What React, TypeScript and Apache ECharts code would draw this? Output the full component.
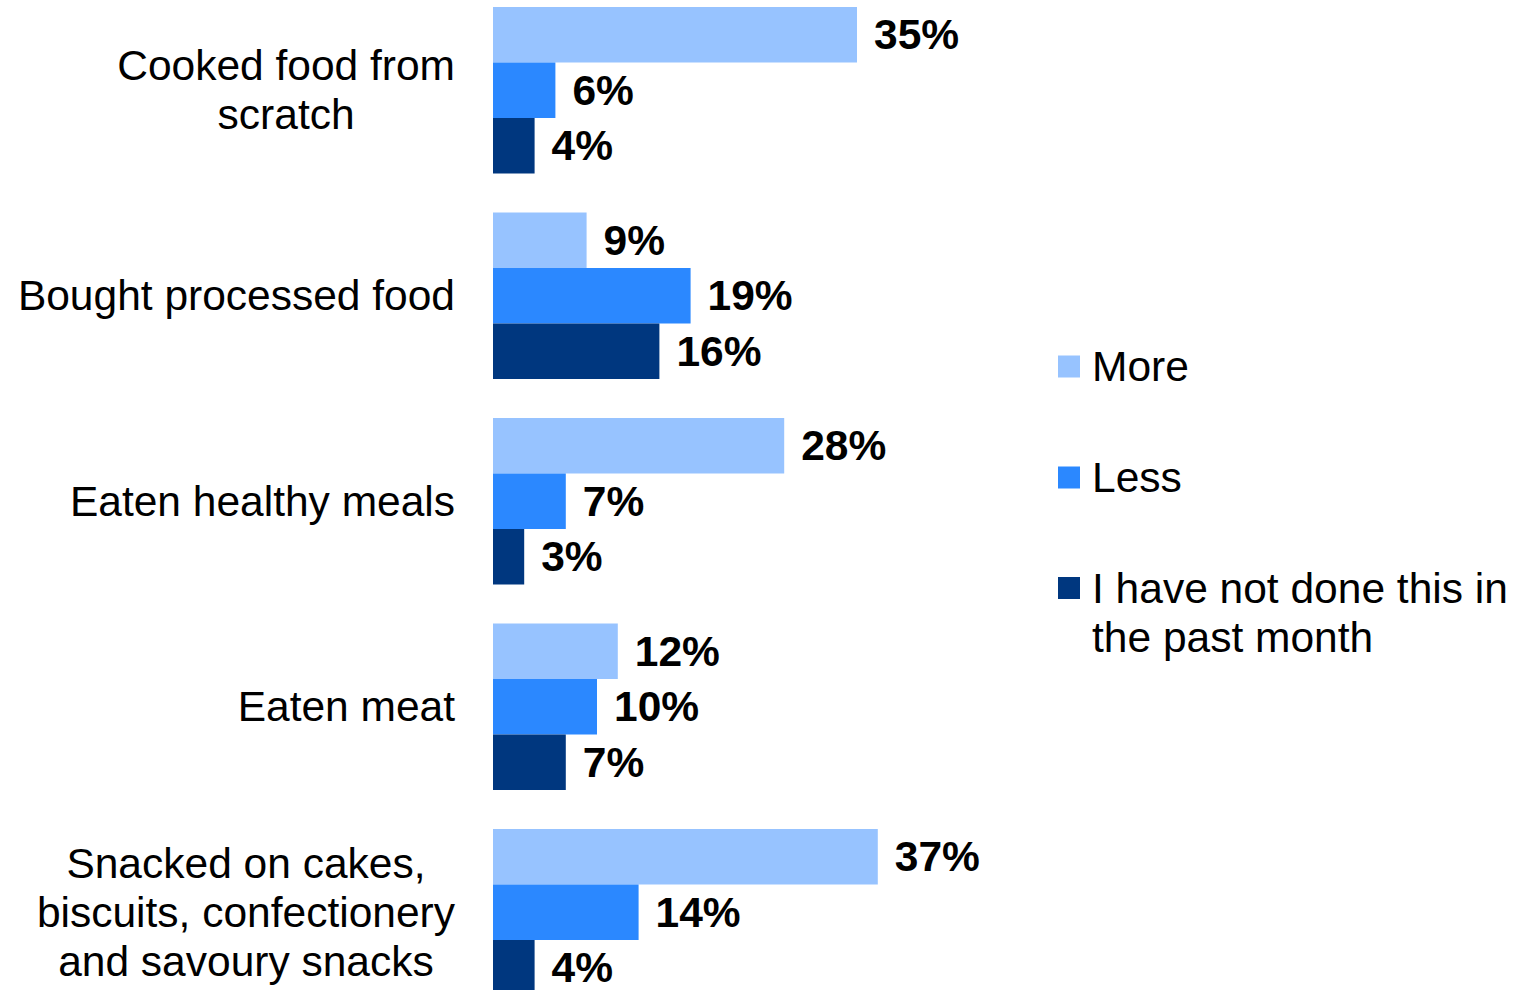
import React, { useEffect, useRef } from "react";
import * as echarts from "echarts";

const categories = [
  "Cooked food from\nscratch",
  "Bought processed food",
  "Eaten healthy meals",
  "Eaten meat",
  "Snacked on cakes,\nbiscuits, confectionery\nand savoury snacks",
];
const seriesNames = ["More", "Less", "I have not done this in the past month"];
const moreValues = [35, 9, 28, 12, 37];
const lessValues = [6, 19, 7, 10, 14];
const notDoneValues = [4, 16, 3, 7, 4];
const colors = ["#97C3FF", "#2B88FF", "#00377F"];

const FONT = "'Liberation Sans', Arial, Helvetica, sans-serif";

export default function App() {
  const ref = useRef<HTMLDivElement>(null);
  useEffect(() => {
    if (!ref.current) return;
    const chart = echarts.init(ref.current, null, { renderer: "svg" });
    const valueLabel = {
      show: true,
      position: "right",
      distance: 17,
      formatter: "{c}%",
      color: "#000",
      fontFamily: FONT,
      fontWeight: "bold",
      fontSize: 42.5,
    };
    const series = [moreValues, lessValues, notDoneValues].map((vals, i) => ({
      name: seriesNames[i],
      type: "bar",
      data: vals,
      barWidth: 55.5,
      barGap: "0%",
      itemStyle: { color: colors[i] },
      label: valueLabel,
    }));
    const legendText = {
      color: "#000",
      fontFamily: FONT,
      fontSize: 42.5,
      lineHeight: 49,
      padding: [0, 0, 0, 7],
    };
    const legendBase = {
      left: 1058,
      padding: 0,
      itemWidth: 22,
      itemHeight: 22,
      itemGap: 12,
      icon: "rect",
      textStyle: legendText,
    };
    chart.setOption({
      animation: false,
      backgroundColor: "#fff",
      grid: { left: 493, top: 7.5, width: 416, height: 1027.5 },
      xAxis: { type: "value", min: 0, max: 40, show: false },
      yAxis: {
        type: "category",
        data: categories,
        inverse: true,
        axisLine: { show: false },
        axisTick: { show: false },
        splitLine: { show: false },
        axisLabel: {
          margin: 38,
          align: "right",
          formatter: (v: string) =>
            v
              .split("\n")
              .map((l) => `{c|${l}}`)
              .join("\n"),
          rich: {
            c: {
              align: "center",
              color: "#000",
              fontFamily: FONT,
              fontSize: 42.5,
              lineHeight: 49,
            },
          },
        },
      },
      legend: [
        { ...legendBase, data: [seriesNames[0]], top: 362 },
        { ...legendBase, data: [seriesNames[1]], top: 473 },
        {
          ...legendBase,
          data: [seriesNames[2]],
          top: 534.5,
          formatter: () => "\nI have not done this in\nthe past month",
        },
      ],
      series,
    });
    return () => chart.dispose();
  }, []);
  return (
    <div
      style={{
        position: "fixed",
        left: 0,
        top: 0,
        width: 1534,
        height: 990,
        overflow: "hidden",
        background: "#fff",
      }}
    >
      <div
        ref={ref}
        style={{ position: "absolute", left: 0, top: -20, width: 1534, height: 1060 }}
      />
    </div>
  );
}
